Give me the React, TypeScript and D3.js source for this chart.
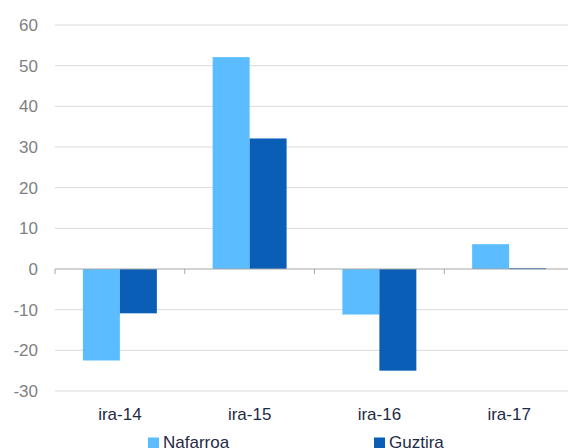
import React from "react";
import * as d3 from "d3";

const categories = ["ira-14", "ira-15", "ira-16", "ira-17"];
const seriesNames = ["Nafarroa", "Guztira"];
const nafarroa = [-22.5, 52.1, -11.2, 6.1];
const guztira = [-10.9, 32.1, -25.0, 0.2];
const yTicks = [-30, -20, -10, 0, 10, 20, 30, 40, 50, 60];
const colors = ["#5BBDFF", "#0A5EB6"];

export default function App() {
  const W = 568, H = 448;
  const x0 = 55, x1 = 55 + 4 * 129.75;
  const y = d3.scaleLinear().domain([-30, 60]).range([391, 25]);
  const x = d3.scaleBand().domain(categories).range([x0, x1]).paddingInner(0).paddingOuter(0);
  const bw = x.bandwidth();
  const groupW = bw * 0.57;
  const xs = d3.scaleBand().domain(seriesNames).range([0, groupW]).padding(0);
  const series = [nafarroa, guztira];
  const font = "Liberation Sans, Arial, sans-serif";
  return (
    <svg width={W} height={H} style={{ position: "absolute", left: 0, top: 0, background: "#fff" }} fontFamily={font}>
      {yTicks.map((t) => (
        <g key={t}>
          {t !== 0 && <line x1={x0} x2={W} y1={y(t)} y2={y(t)} stroke="#D9D9D9" strokeWidth={1} />}
          <text x={38} y={y(t)} dy="0.35em" textAnchor="end" fontSize={17} fill="#7F7F7F">{t}</text>
        </g>
      ))}
      {categories.map((c, i) => (
        <g key={c} transform={`translate(${(x(c) as number) + (bw - groupW) / 2},0)`}>
          {series.map((s, j) => {
            const v = s[i];
            const top = Math.min(y(v), y(0));
            const h = Math.max(Math.abs(y(v) - y(0)), 1);
            return <rect key={j} x={xs(seriesNames[j])} y={top} width={xs.bandwidth()} height={h} fill={colors[j]} />;
          })}
        </g>
      ))}
      <line x1={x0} x2={W} y1={y(0)} y2={y(0)} stroke="#A6A6A6" strokeWidth={1.2} />
      {categories.map((c) => (
        <line key={c} x1={x(c)} x2={x(c)} y1={y(0)} y2={y(0) + 5} stroke="#A6A6A6" strokeWidth={1} />
      ))}
      {categories.map((c) => (
        <text key={c} x={(x(c) as number) + bw / 2} y={420} textAnchor="middle" fontSize={17} fill="#1F2A44">{c}</text>
      ))}
      {seriesNames.map((n, j) => {
        const lx = j === 0 ? 148 : 374;
        return (
          <g key={n}>
            <rect x={lx} y={437.5} width={11} height={11} fill={colors[j]} />
            <text x={lx + 15} y={447.5} fontSize={17} fill="#1F2A44">{n}</text>
          </g>
        );
      })}
    </svg>
  );
}
